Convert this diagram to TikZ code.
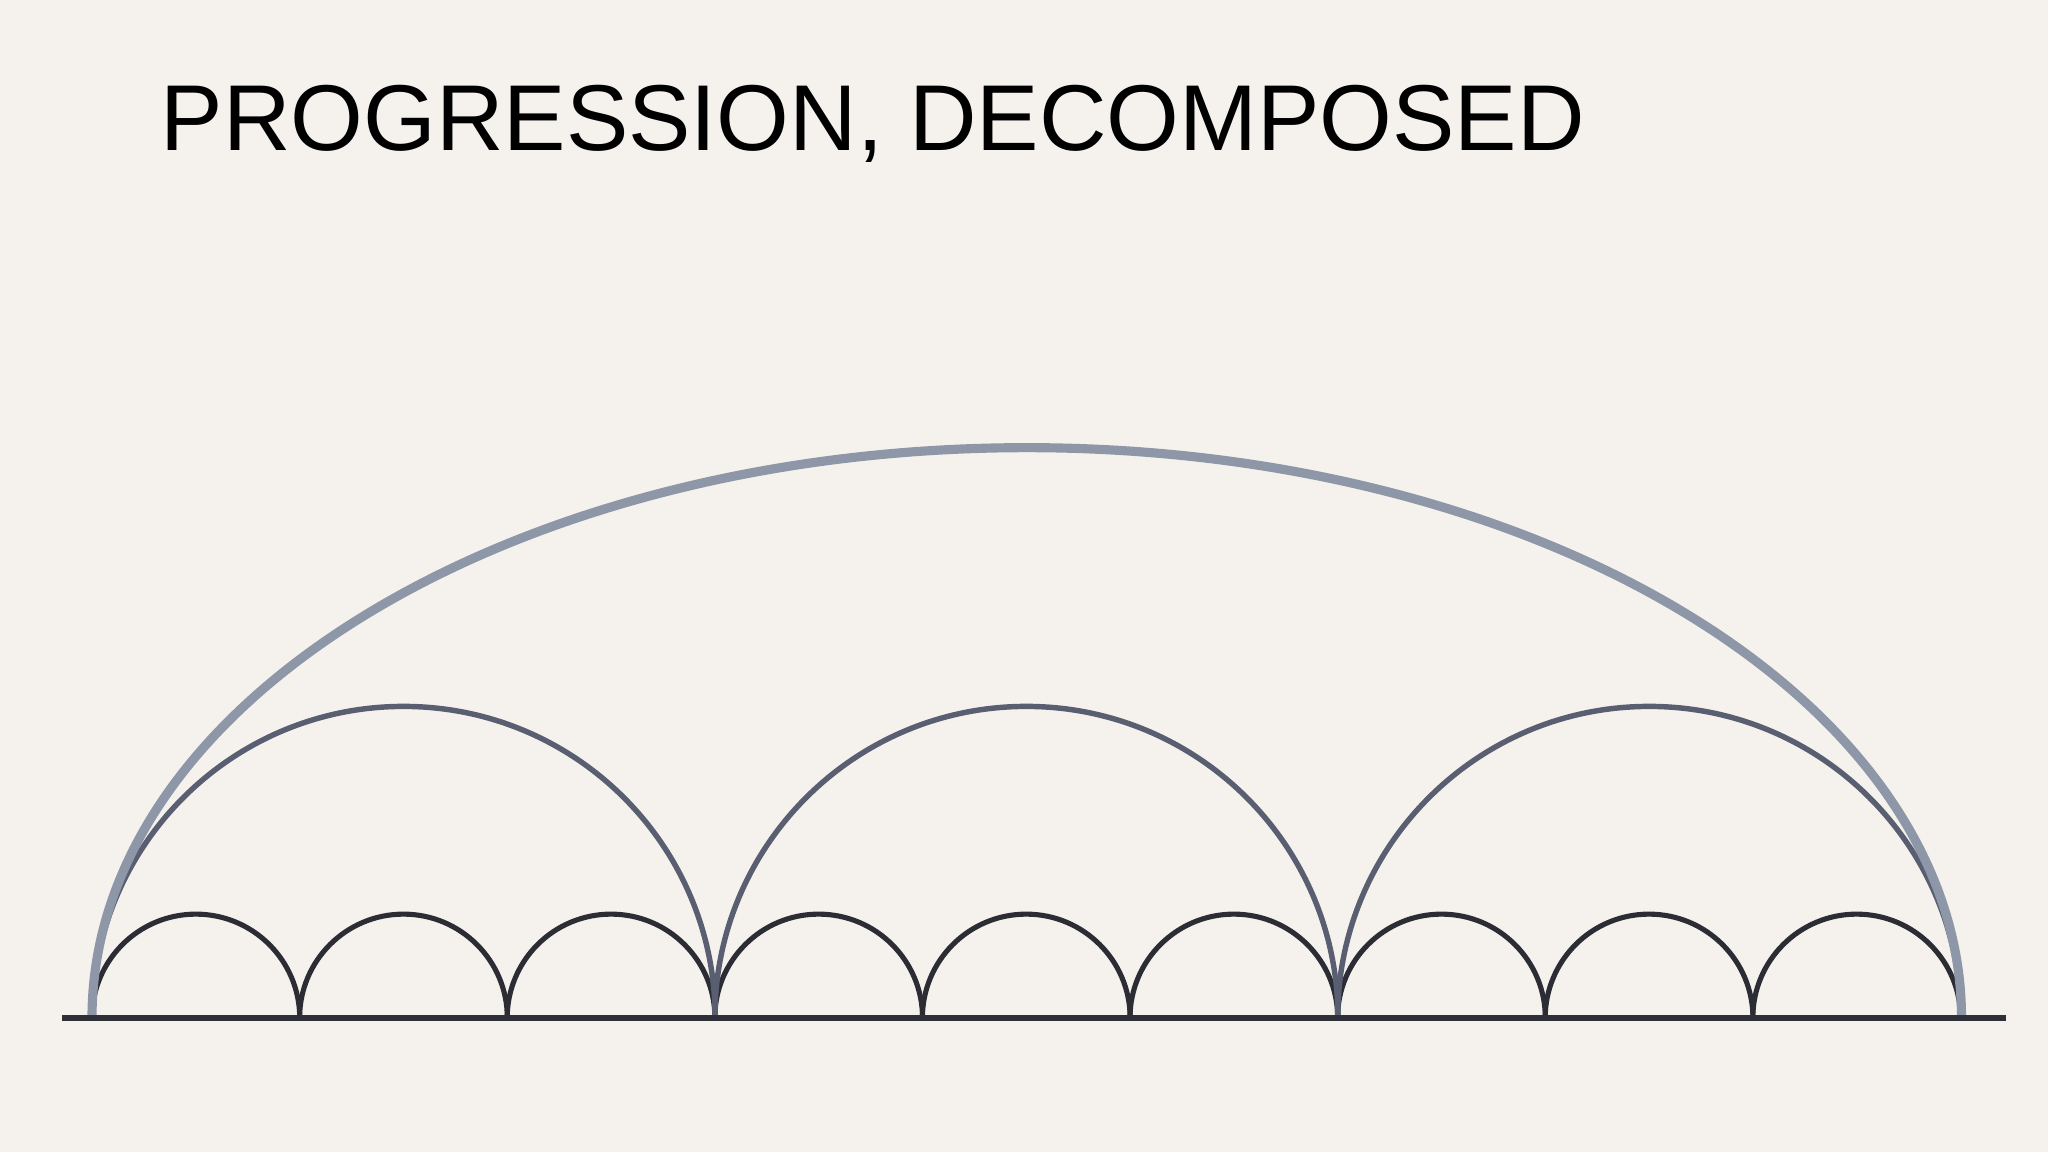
\documentclass[tikz,border=0pt]{standalone}
\usepackage{fontspec}
\setsansfont{Liberation Sans}
\usetikzlibrary{calc}
\definecolor{mybg}{HTML}{F5F2EE}
\definecolor{mybig}{HTML}{8D97A8}
\definecolor{mymid}{HTML}{595E70}
\definecolor{mysmall}{HTML}{2C2C34}
\definecolor{myline}{HTML}{2E3038}

\begin{document}
\begin{tikzpicture}[x=0.01cm,y=0.01cm,
  small arc/.style={draw=mysmall,line width=1.45pt},
  mid arc/.style={draw=mymid,line width=1.55pt},
  big arc/.style={draw=mybig,line width=2.6pt},
  base line/.style={draw=myline,line width=1.7pt}]

\fill[mybg] (0,0) rectangle (2048,1152);
\useasboundingbox (0,0) rectangle (2048,1152);

\node[font=\sffamily\fontsize{26.6}{32}\selectfont,anchor=base west,inner sep=0] (title) at (160,1001) {PROGRESSION, DECOMPOSED};

\foreach \a in {0,...,9}{
  \coordinate (p\a) at (92+\a*207.6,134);
}
\coordinate (L) at (62,134);
\coordinate (R) at (2006,134);

\foreach \a in {0,...,8}{
  \draw[small arc] (p\a) arc[start angle=180,end angle=0,radius=1.038cm];
}
\foreach \a in {0,3,6}{
  \draw[mid arc] (p\a) arc[start angle=180,end angle=0,radius=3.114cm];
}
\draw[big arc] (p0) arc[start angle=180,end angle=0,x radius=9.342cm,y radius=5.70cm];
\draw[base line] (L) -- (R);
\end{tikzpicture}
\end{document}
